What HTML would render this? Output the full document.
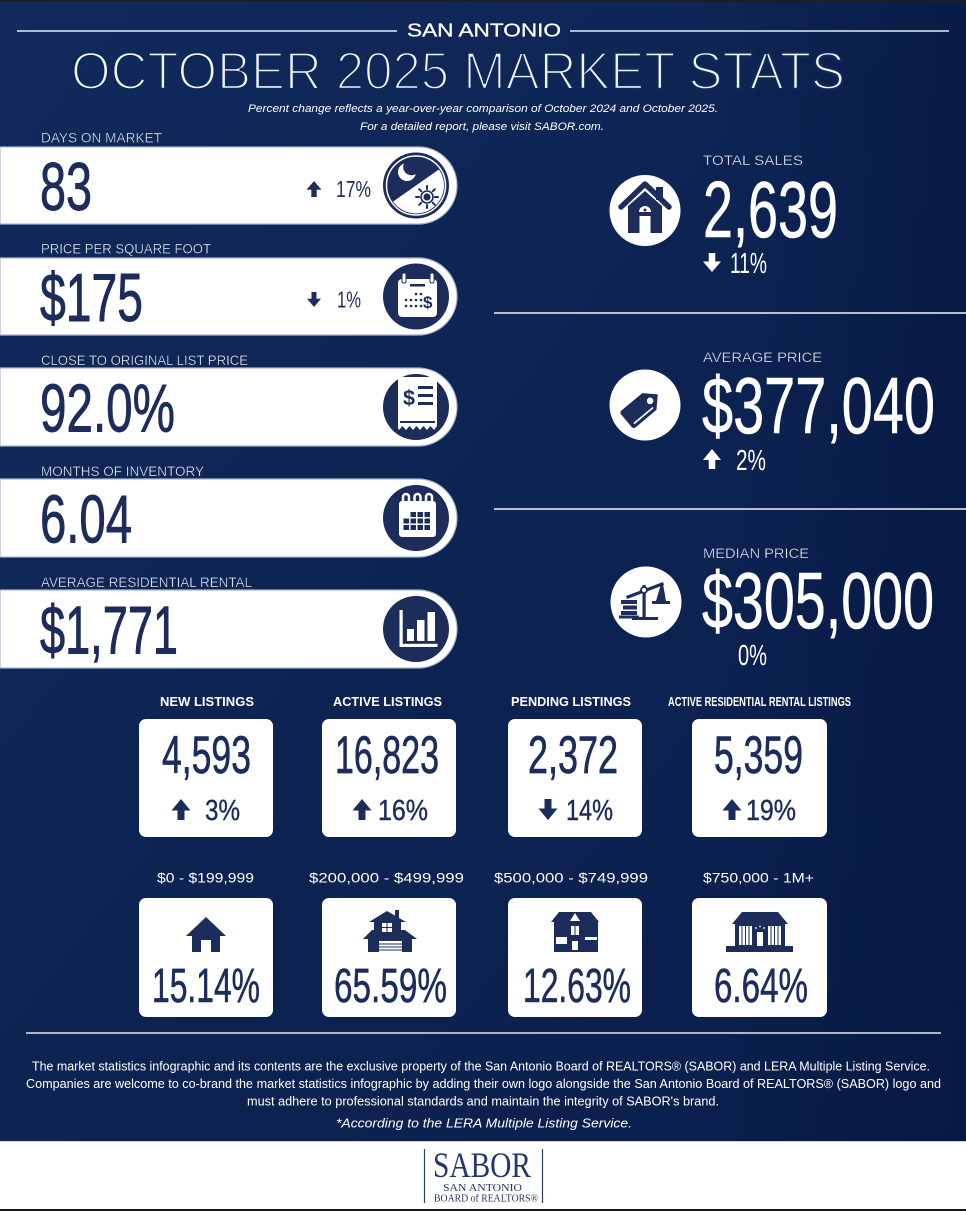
<!DOCTYPE html>
<html><head><meta charset="utf-8"><style>
html,body{margin:0;padding:0;background:#0c2252;}
svg{display:block;}
.n{font-family:"Liberation Sans Narrow","Liberation Sans",sans-serif;}
.s{font-family:"Liberation Sans",sans-serif;}
</style></head><body>
<svg width="966" height="1211" viewBox="0 0 966 1211" xmlns="http://www.w3.org/2000/svg">
<defs>
<linearGradient id="bg" x1="0" y1="0" x2="1" y2="1">
<stop offset="0" stop-color="#122a5c"/><stop offset="0.45" stop-color="#0d2453"/><stop offset="1" stop-color="#091d4b"/>
</linearGradient>
<linearGradient id="rd" x1="0" y1="0" x2="1" y2="0">
<stop offset="0.75" stop-color="#031238" stop-opacity="0"/><stop offset="1" stop-color="#031238" stop-opacity="0.45"/>
</linearGradient>
<clipPath id="c1"><circle cx="416" cy="185.5" r="28"/></clipPath>
</defs>
<rect x="0" y="0" width="966" height="1211" fill="url(#bg)"/>
<rect x="0" y="0" width="966" height="1141" fill="url(#rd)"/>
<rect x="0" y="0" width="966" height="1.5" fill="#1e1e1e"/>

<!-- header -->
<line x1="17" y1="31" x2="397" y2="31" stroke="#e6eaf2" stroke-width="1.5"/>
<line x1="570" y1="31" x2="949" y2="31" stroke="#e6eaf2" stroke-width="1.5"/>
<text class="s" x="407" y="36.5" font-size="18.5" fill="#fff" stroke="#fff" stroke-width="0.3" textLength="154" lengthAdjust="spacingAndGlyphs">SAN ANTONIO</text>
<text class="s" x="71" y="89" font-size="53" fill="#f2f4f9" stroke="#10275a" stroke-width="2.4" textLength="774" lengthAdjust="spacingAndGlyphs">OCTOBER 2025 MARKET STATS</text>
<text class="s" x="248" y="112" font-size="11" font-style="italic" fill="#fff" textLength="470" lengthAdjust="spacingAndGlyphs">Percent change reflects a year-over-year comparison of October 2024 and October 2025.</text>
<text class="s" x="360" y="130" font-size="11" font-style="italic" fill="#fff" textLength="244" lengthAdjust="spacingAndGlyphs">For a detailed report, please visit SABOR.com.</text>

<!-- left labels -->
<g class="s" font-size="13.5" fill="#eef1f7" stroke="#0e2454" stroke-width="0.35">
<text x="41" y="142.5" textLength="121" lengthAdjust="spacingAndGlyphs">DAYS ON MARKET</text>
<text x="41" y="253.5" textLength="170" lengthAdjust="spacingAndGlyphs">PRICE PER SQUARE FOOT</text>
<text x="41" y="365" textLength="207" lengthAdjust="spacingAndGlyphs">CLOSE TO ORIGINAL LIST PRICE</text>
<text x="41" y="476" textLength="163" lengthAdjust="spacingAndGlyphs">MONTHS OF INVENTORY</text>
<text x="41" y="587" textLength="211" lengthAdjust="spacingAndGlyphs">AVERAGE RESIDENTIAL RENTAL</text>
</g>

<!-- left bars -->
<g fill="#ffffff" stroke="#a9b6cf" stroke-width="1.2">
<path d="M0,147 H418.5 A38.5,38.5 0 0 1 418.5,224 H0 Z"/>
<path d="M0,258 H418.5 A38.5,38.5 0 0 1 418.5,335 H0 Z"/>
<path d="M0,368 H418 A39,39 0 0 1 418,446 H0 Z"/>
<path d="M0,479 H418 A39,39 0 0 1 418,557 H0 Z"/>
<path d="M0,590 H418 A39,39 0 0 1 418,668 H0 Z"/>
</g>

<!-- left numbers -->
<g class="n" font-size="68" fill="#1c2c5b" stroke="#1c2c5b" stroke-width="0.9">
<text x="40" y="210" textLength="52" lengthAdjust="spacingAndGlyphs">83</text>
<text x="40" y="321" textLength="103" lengthAdjust="spacingAndGlyphs">$175</text>
<text x="40" y="431.5" textLength="135" lengthAdjust="spacingAndGlyphs">92.0%</text>
<text x="40" y="542.5" textLength="92" lengthAdjust="spacingAndGlyphs">6.04</text>
<text x="40" y="653.5" textLength="138" lengthAdjust="spacingAndGlyphs">$1,771</text>
</g>
<g class="n" font-size="23.5" fill="#1c2c5b">
<text x="336" y="197" textLength="35" lengthAdjust="spacingAndGlyphs">17%</text>
<text x="337" y="307.5" textLength="24" lengthAdjust="spacingAndGlyphs">1%</text>
</g>
<polygon fill="#1c2c5b" points="314,181 321.5,189.8 316.7,189.8 316.7,197 311.3,197 311.3,189.8 306.5,189.8"/>
<polygon fill="#1c2c5b" points="314,307 321,298.75 316.5,298.75 316.5,292 311.5,292 311.5,298.75 307,298.75"/>

<!-- icon 1 moon/sun -->
<circle cx="416" cy="185.5" r="33" fill="#1c2c5b"/>
<circle cx="416" cy="185.5" r="29.5" fill="none" stroke="#fff" stroke-width="1.5"/>
<polygon clip-path="url(#c1)" fill="#fff" points="376,213.5 456,157.5 456,232 376,232"/>
<circle cx="407" cy="172" r="9" fill="#fff"/>
<circle cx="411.5" cy="167" r="8.3" fill="#1c2c5b"/>
<g stroke="#1c2c5b" stroke-width="2" stroke-linecap="round">
<line x1="427" y1="186" x2="427" y2="189"/><line x1="427" y1="205" x2="427" y2="208"/>
<line x1="416" y1="197" x2="419" y2="197"/><line x1="435" y1="197" x2="438" y2="197"/>
<line x1="419.2" y1="189.2" x2="421.3" y2="191.3"/><line x1="432.7" y1="202.7" x2="434.8" y2="204.8"/>
<line x1="434.8" y1="189.2" x2="432.7" y2="191.3"/><line x1="421.3" y1="202.7" x2="419.2" y2="204.8"/>
</g>
<circle cx="427" cy="197" r="6" fill="none" stroke="#1c2c5b" stroke-width="1.6"/>
<circle cx="427" cy="197" r="3.6" fill="#1c2c5b"/>

<!-- icon 2 calendar $ -->
<circle cx="416" cy="296.5" r="33" fill="#1c2c5b"/>
<rect x="398" y="279" width="39" height="38" rx="4" fill="#fff"/>
<rect x="402" y="273" width="4" height="10" rx="1.5" fill="#fff" stroke="#1c2c5b" stroke-width="1"/>
<rect x="430" y="273" width="4" height="10" rx="1.5" fill="#fff" stroke="#1c2c5b" stroke-width="1"/>
<rect x="410" y="284" width="15" height="2.5" fill="#1c2c5b"/>
<g fill="#1c2c5b">
<circle cx="416" cy="294" r="1.3"/><circle cx="421" cy="294" r="1.3"/>
<circle cx="406" cy="300" r="1.3"/><circle cx="411" cy="300" r="1.3"/><circle cx="416" cy="300" r="1.3"/><circle cx="421" cy="300" r="1.3"/>
<circle cx="406" cy="306" r="1.3"/><circle cx="411" cy="306" r="1.3"/><circle cx="416" cy="306" r="1.3"/><circle cx="421" cy="306" r="1.3"/>
</g>
<text class="s" x="423" y="308" font-size="17" font-weight="bold" fill="#1c2c5b">$</text>

<!-- icon 3 receipt -->
<circle cx="416" cy="407" r="33" fill="#1c2c5b"/>
<path d="M398,381 Q398,377 402,377 H433 Q437,377 437,381 V426 L434,430 L430.5,426 L427,430 L423.5,426 L420,430 L416.5,426 L413,430 L409.5,426 L406,430 L402.5,426 L399,430 L398,428 Z" fill="#fff"/>
<rect x="400" y="421" width="35" height="2" fill="#1c2c5b"/>
<text class="s" x="403" y="405" font-size="21" font-weight="bold" fill="#1c2c5b" textLength="12" lengthAdjust="spacingAndGlyphs">$</text>
<g fill="#1c2c5b"><rect x="418" y="386" width="15" height="3"/><rect x="418" y="394" width="15" height="3"/><rect x="418" y="402" width="15" height="3"/></g>

<!-- icon 4 calendar grid -->
<circle cx="416" cy="518" r="33" fill="#1c2c5b"/>
<rect x="399" y="501" width="37" height="36" rx="3" fill="#fff"/>
<g fill="none" stroke="#fff" stroke-width="2.5">
<path d="M403,504 V497 A3,3 0 0 1 409,497 V503"/>
<path d="M414.5,504 V497 A3,3 0 0 1 420.5,497 V503"/>
<path d="M426,504 V497 A3,3 0 0 1 432,497 V503"/>
</g>
<g fill="#1c2c5b">
<rect x="410.5" y="512" width="5.5" height="5"/><rect x="417.5" y="512" width="5.5" height="5"/><rect x="424.5" y="512" width="5.5" height="5"/>
<rect x="403.5" y="518.5" width="5.5" height="5"/><rect x="410.5" y="518.5" width="5.5" height="5"/><rect x="417.5" y="518.5" width="5.5" height="5"/><rect x="424.5" y="518.5" width="5.5" height="5"/>
<rect x="403.5" y="525" width="5.5" height="5"/><rect x="410.5" y="525" width="5.5" height="5"/><rect x="417.5" y="525" width="5.5" height="5"/><rect x="424.5" y="525" width="5.5" height="5"/>
</g>

<!-- icon 5 bar chart -->
<circle cx="416" cy="629" r="33" fill="#1c2c5b"/>
<g fill="#fff">
<rect x="399.5" y="610" width="3.2" height="37"/>
<rect x="399.5" y="643.8" width="38" height="3.2"/>
<rect x="407" y="629" width="7" height="12"/>
<rect x="417" y="620" width="7.5" height="21"/>
<rect x="427.5" y="612" width="7.5" height="29"/>
</g>

<!-- right side -->
<g class="s" font-size="13.5" fill="#eef1f7" stroke="#0e2454" stroke-width="0.35">
<text x="703" y="165" textLength="100" lengthAdjust="spacingAndGlyphs">TOTAL SALES</text>
<text x="703" y="362" textLength="119" lengthAdjust="spacingAndGlyphs">AVERAGE PRICE</text>
<text x="703" y="558" textLength="106" lengthAdjust="spacingAndGlyphs">MEDIAN PRICE</text>
</g>
<g class="n" font-size="80" fill="#ffffff" stroke="#ffffff" stroke-width="0.6">
<text x="703" y="237" textLength="135" lengthAdjust="spacingAndGlyphs">2,639</text>
<text x="702" y="433" textLength="233" lengthAdjust="spacingAndGlyphs">$377,040</text>
<text x="702" y="628" textLength="232" lengthAdjust="spacingAndGlyphs">$305,000</text>
</g>
<g class="n" font-size="29" fill="#ffffff">
<text x="730" y="273" textLength="37" lengthAdjust="spacingAndGlyphs">11%</text>
<text x="736" y="470" textLength="30" lengthAdjust="spacingAndGlyphs">2%</text>
<text x="738" y="665" textLength="29" lengthAdjust="spacingAndGlyphs">0%</text>
</g>
<polygon fill="#fff" points="712,272 721,261.5 715.25,261.5 715.25,253 708.75,253 708.75,261.5 703,261.5"/>
<polygon fill="#fff" points="712,449 721,460 715.25,460 715.25,469 708.75,469 708.75,460 703,460"/>
<line x1="494" y1="313" x2="966" y2="313" stroke="#b7bfcf" stroke-width="2"/>
<line x1="494" y1="509" x2="966" y2="509" stroke="#b7bfcf" stroke-width="2"/>

<!-- house icon -->
<circle cx="645" cy="210.5" r="35.5" fill="#fff"/>
<rect x="656" y="187" width="7" height="13" fill="#1c2c5b"/>
<polyline points="621,207 645,184 669,207" fill="none" stroke="#1c2c5b" stroke-width="5.5" stroke-linecap="round" stroke-linejoin="round"/>
<polygon points="628,206 645,191 662,206 662,233 628,233" fill="#1c2c5b"/>
<rect x="639.5" y="216" width="11" height="17" fill="#fff"/>
<path d="M639,212 A6,6 0 0 1 651,212 Z" fill="#fff"/>
<circle cx="645" cy="210" r="1.5" fill="#1c2c5b"/>

<!-- tag icon -->
<circle cx="645" cy="405" r="35.5" fill="#fff"/>
<g transform="translate(644,406) rotate(-40)">
<path d="M-20,-11 H7 L18,0 L7,11 H-20 Q-23,11 -23,8 V-8 Q-23,-11 -20,-11 Z" fill="#1c2c5b"/>
<path d="M-19,7 H6" stroke="#fff" stroke-width="1.6"/>
<circle cx="8" cy="0" r="3.3" fill="#fff"/>
</g>

<!-- scale icon -->
<circle cx="646" cy="602" r="35.5" fill="#fff"/>
<g fill="#1c2c5b">
<rect x="642.5" y="585" width="3.2" height="33"/>
<rect x="632" y="617" width="26" height="3"/>
<polygon points="626,596 663,582 664,585 627,599"/>
<rect x="652" y="601" width="18" height="3"/>
<polygon points="661,584 663,584 666,601 656,601"/>
<rect x="621" y="600" width="16" height="4"/>
<rect x="623" y="605.5" width="14" height="4"/>
<rect x="621" y="611" width="16" height="4"/>
<rect x="619" y="615.5" width="20" height="3"/>
</g>
<circle cx="644" cy="590" r="3" fill="#fff" stroke="#1c2c5b" stroke-width="1.8"/>

<!-- listings -->
<g class="s" font-size="13" font-weight="bold" fill="#ffffff">
<text x="160" y="706" textLength="94" lengthAdjust="spacingAndGlyphs">NEW LISTINGS</text>
<text x="333" y="706" textLength="109" lengthAdjust="spacingAndGlyphs">ACTIVE LISTINGS</text>
<text x="511" y="706" textLength="120" lengthAdjust="spacingAndGlyphs">PENDING LISTINGS</text>
<text x="668" y="706" textLength="183" lengthAdjust="spacingAndGlyphs">ACTIVE RESIDENTIAL RENTAL LISTINGS</text>
</g>
<g fill="#ffffff">
<rect x="139" y="719" width="134" height="118" rx="7"/>
<rect x="322" y="719" width="134" height="118" rx="7"/>
<rect x="508" y="719" width="134" height="118" rx="7"/>
<rect x="692" y="719" width="135" height="118" rx="7"/>
</g>
<g class="n" font-size="53" fill="#1c2c5b" stroke="#1c2c5b" stroke-width="0.7">
<text x="162" y="773" textLength="89" lengthAdjust="spacingAndGlyphs">4,593</text>
<text x="335" y="773" textLength="104" lengthAdjust="spacingAndGlyphs">16,823</text>
<text x="528" y="773" textLength="90" lengthAdjust="spacingAndGlyphs">2,372</text>
<text x="714" y="773" textLength="89" lengthAdjust="spacingAndGlyphs">5,359</text>
</g>
<g class="n" font-size="29" fill="#1c2c5b" stroke="#1c2c5b" stroke-width="0.4">
<text x="205" y="820" textLength="35" lengthAdjust="spacingAndGlyphs">3%</text>
<text x="378" y="820" textLength="50" lengthAdjust="spacingAndGlyphs">16%</text>
<text x="566" y="820" textLength="47" lengthAdjust="spacingAndGlyphs">14%</text>
<text x="746" y="820" textLength="50" lengthAdjust="spacingAndGlyphs">19%</text>
</g>
<g fill="#1c2c5b">
<polygon points="181,799 190.5,810.5 184.5,810.5 184.5,820 177.5,820 177.5,810.5 171.5,810.5"/>
<polygon points="362,799 371.5,810.5 365.5,810.5 365.5,820 358.5,820 358.5,810.5 352.5,810.5"/>
<polygon points="548,820 557.5,808.5 551.5,808.5 551.5,799 544.5,799 544.5,808.5 538.5,808.5"/>
<polygon points="732,799 741.5,810.5 735.5,810.5 735.5,820 728.5,820 728.5,810.5 722.5,810.5"/>
</g>

<!-- price ranges -->
<g class="s" font-size="13.5" fill="#ffffff">
<text x="157" y="882.5" textLength="97" lengthAdjust="spacingAndGlyphs">$0 - $199,999</text>
<text x="309" y="882.5" textLength="155" lengthAdjust="spacingAndGlyphs">$200,000 - $499,999</text>
<text x="494" y="882.5" textLength="154" lengthAdjust="spacingAndGlyphs">$500,000 - $749,999</text>
<text x="703" y="882.5" textLength="111" lengthAdjust="spacingAndGlyphs">$750,000 - 1M+</text>
</g>
<g fill="#ffffff">
<rect x="139" y="898" width="134" height="119" rx="7"/>
<rect x="322" y="898" width="134" height="119" rx="7"/>
<rect x="508" y="898" width="134" height="119" rx="7"/>
<rect x="692" y="898" width="135" height="119" rx="7"/>
</g>
<g class="n" font-size="48" fill="#1c2c5b" stroke="#1c2c5b" stroke-width="0.6">
<text x="152" y="1002" textLength="108" lengthAdjust="spacingAndGlyphs">15.14%</text>
<text x="334" y="1002" textLength="113" lengthAdjust="spacingAndGlyphs">65.59%</text>
<text x="523" y="1002" textLength="108" lengthAdjust="spacingAndGlyphs">12.63%</text>
<text x="714" y="1002" textLength="94" lengthAdjust="spacingAndGlyphs">6.64%</text>
</g>

<!-- small houses -->
<g fill="#1c2c5b">
<polygon points="186,936 206,917 226,936"/>
<rect x="192" y="934" width="28" height="18"/>
<rect x="395" y="910" width="4" height="9"/>
<polygon points="369,922 387,911 406,922"/>
<rect x="374" y="921" width="27" height="17"/>
<polygon points="363,939 372,930 405,930 417,939"/>
<rect x="368" y="938" width="44" height="14"/>
<polygon points="551,922 559,912 591,912 599,922"/>
<rect x="554" y="920" width="44" height="32"/>
<polygon points="732,924 742,912 778,912 788,924"/>
<rect x="735" y="923" width="50" height="24"/>
<rect x="726" y="946" width="67" height="6"/>
</g>
<g fill="#ffffff">
<rect x="201" y="940" width="10" height="12"/>
<rect x="382" y="923" width="10" height="9"/>
<rect x="379" y="941" width="23" height="11"/>
<polygon points="575,913 570,921 580,921"/>
<rect x="571" y="926" width="8" height="9"/>
<rect x="556" y="937" width="11" height="7"/>
<rect x="585" y="937" width="12" height="3"/>
<rect x="572" y="941" width="6" height="9"/>
<rect x="739" y="926" width="13" height="19"/>
<rect x="768" y="926" width="13" height="19"/>
<rect x="757" y="932" width="6" height="14"/>
</g>
<g stroke="#1c2c5b" stroke-width="1">
<line x1="387" y1="923" x2="387" y2="932"/><line x1="382" y1="927.5" x2="392" y2="927.5"/>
<line x1="379" y1="944" x2="402" y2="944"/><line x1="379" y1="947" x2="402" y2="947"/><line x1="379" y1="950" x2="402" y2="950"/>
<line x1="575" y1="926" x2="575" y2="935"/>
<line x1="742" y1="926" x2="742" y2="945"/><line x1="745.5" y1="926" x2="745.5" y2="945"/><line x1="749" y1="926" x2="749" y2="945"/>
<line x1="771" y1="926" x2="771" y2="945"/><line x1="774.5" y1="926" x2="774.5" y2="945"/><line x1="778" y1="926" x2="778" y2="945"/>
</g>
<g fill="#fff"><circle cx="756" cy="928" r="0.9"/><circle cx="760" cy="926.5" r="0.9"/><circle cx="764" cy="928" r="0.9"/></g>

<!-- footer -->
<line x1="26" y1="1033" x2="941" y2="1033" stroke="#aeb6c6" stroke-width="2"/>
<g class="n" font-size="12.5" fill="#ffffff">
<text x="32" y="1070.5" textLength="898" lengthAdjust="spacingAndGlyphs">The market statistics infographic and its contents are the exclusive property of the San Antonio Board of REALTORS® (SABOR) and LERA Multiple Listing Service.</text>
<text x="26" y="1088" textLength="915" lengthAdjust="spacingAndGlyphs">Companies are welcome to co-brand the market statistics infographic by adding their own logo alongside the San Antonio Board of REALTORS® (SABOR) logo and</text>
<text x="247" y="1105.5" textLength="472" lengthAdjust="spacingAndGlyphs">must adhere to professional standards and maintain the integrity of SABOR's brand.</text>
</g>
<text class="s" x="336" y="1127.5" font-size="12.5" font-style="italic" fill="#ffffff" textLength="296" lengthAdjust="spacingAndGlyphs">*According to the LERA Multiple Listing Service.</text>

<rect x="0" y="1141" width="966" height="68" fill="#ffffff"/>
<rect x="0" y="1141" width="966" height="1" fill="#c9cfdb"/>
<rect x="0" y="1209" width="966" height="2" fill="#151515"/>
<line x1="424.5" y1="1149" x2="424.5" y2="1203" stroke="#2a3d6e" stroke-width="1.2"/>
<line x1="542.5" y1="1149" x2="542.5" y2="1203" stroke="#2a3d6e" stroke-width="1.2"/>
<g font-family="'Liberation Serif',serif" fill="#22376a">
<text x="433" y="1177" font-size="36" textLength="98" lengthAdjust="spacingAndGlyphs">SABOR</text>
<text x="443" y="1191" font-size="10.5" textLength="79" lengthAdjust="spacingAndGlyphs">SAN ANTONIO</text>
<text x="434" y="1201.5" font-size="10.5" textLength="104" lengthAdjust="spacingAndGlyphs">BOARD of REALTORS®</text>
</g>
</svg>
</body></html>
